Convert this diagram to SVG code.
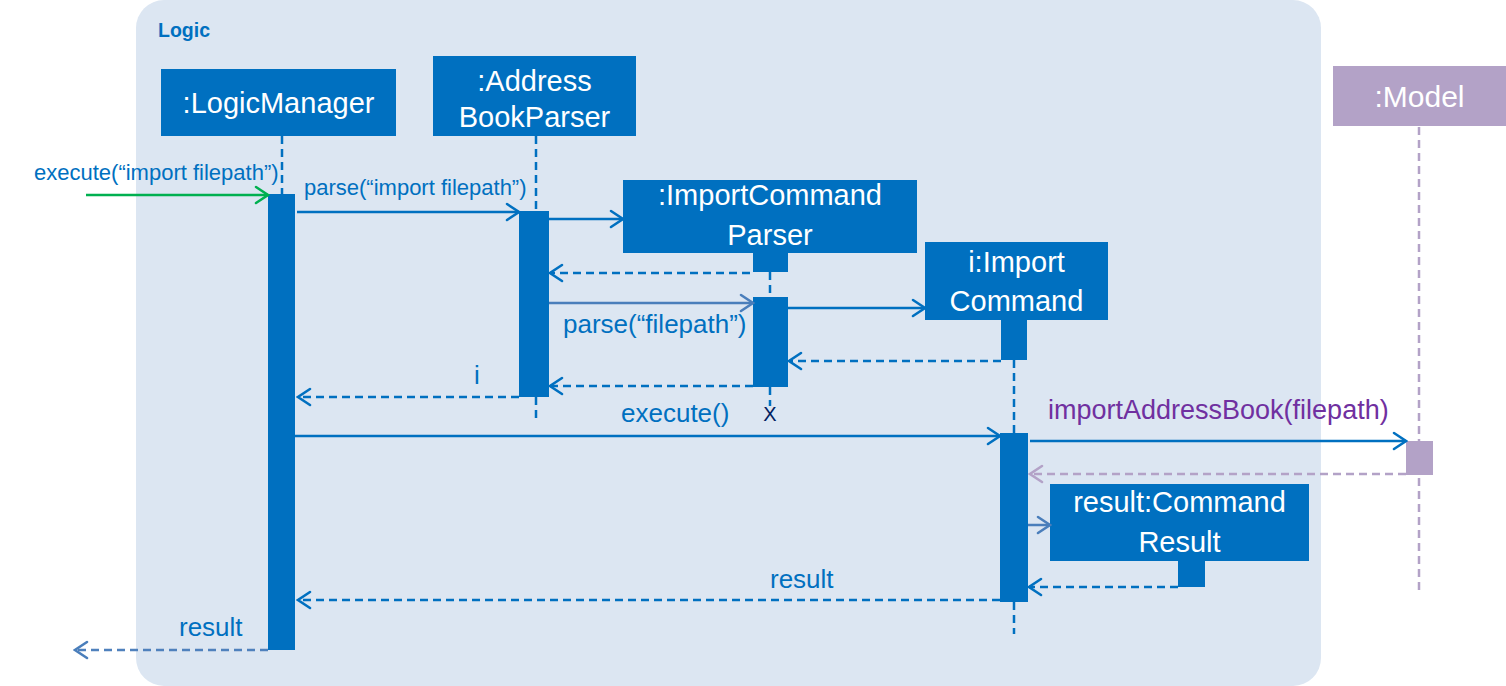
<svg xmlns="http://www.w3.org/2000/svg" width="1506" height="686" viewBox="0 0 1506 686">
<style>
text{font-family:"Liberation Sans",Arial,sans-serif}
.head{fill:#0070C0}
.bar{fill:#0070C0}
.ht{fill:#FFFFFF;font-size:29px;text-anchor:middle}
.lbl{fill:#0070C0;font-size:26px}
.sml{fill:#0070C0;font-size:22px}
.life{stroke:#0070C0;stroke-width:2.5;stroke-dasharray:8 5;fill:none}
.msg{stroke:#0070C0;stroke-width:2.5;fill:none}
.ret{stroke:#0070C0;stroke-width:2.5;stroke-dasharray:8 5;fill:none}
</style>
<defs>
<marker id="aB" markerUnits="userSpaceOnUse" markerWidth="16" markerHeight="20" viewBox="0 0 16 20" refX="14" refY="10" orient="auto"><path d="M2,2 L14,10 L2,18" fill="none" stroke="#0070C0" stroke-width="2.5" stroke-linecap="round"/></marker>
<marker id="aG" markerUnits="userSpaceOnUse" markerWidth="16" markerHeight="20" viewBox="0 0 16 20" refX="14" refY="10" orient="auto"><path d="M2,2 L14,10 L2,18" fill="none" stroke="#00B050" stroke-width="2.5" stroke-linecap="round"/></marker>
<marker id="aL" markerUnits="userSpaceOnUse" markerWidth="16" markerHeight="20" viewBox="0 0 16 20" refX="14" refY="10" orient="auto"><path d="M2,2 L14,10 L2,18" fill="none" stroke="#4A7EBB" stroke-width="2.5" stroke-linecap="round"/></marker>
<marker id="aP" markerUnits="userSpaceOnUse" markerWidth="16" markerHeight="20" viewBox="0 0 16 20" refX="14" refY="10" orient="auto"><path d="M2,2 L14,10 L2,18" fill="none" stroke="#B3A2C7" stroke-width="2.5" stroke-linecap="round"/></marker>
</defs>
<rect x="0" y="0" width="1506" height="686" fill="#FFFFFF"/>
<g id="logic-frame">
<rect x="136" y="0" width="1185" height="686" rx="28" fill="#DCE6F2"/>
<text x="158" y="37" font-size="19.5" font-weight="bold" fill="#0070C0">Logic</text>
</g>
<g id="logicmanager">
<line class="life" x1="282" y1="136" x2="282" y2="194"/>
<rect class="head" x="161" y="69" width="235" height="67"/>
<text class="ht" x="278.5" y="113">:LogicManager</text>
<rect class="bar" x="268" y="194" width="27" height="456"/>
</g>
<g id="addressbookparser">
<line class="life" x1="536" y1="136" x2="536" y2="211"/>
<line class="life" x1="536" y1="397" x2="536" y2="418"/>
<rect class="head" x="433" y="56" width="203" height="80"/>
<text class="ht" x="534.5" y="91">:Address</text>
<text class="ht" x="534.5" y="127">BookParser</text>
<rect class="bar" x="519" y="211" width="30" height="186"/>
</g>
<g id="importcommandparser">
<line class="life" x1="770" y1="272" x2="770" y2="297"/>
<line class="life" x1="770" y1="387" x2="770" y2="406"/>
<rect class="head" x="623" y="180" width="294" height="73"/>
<text class="ht" x="770" y="205">:ImportCommand</text>
<text class="ht" x="770" y="245">Parser</text>
<rect class="bar" x="753" y="253" width="35" height="19"/>
<rect class="bar" x="753" y="297" width="35" height="90"/>
<text x="770" y="421" font-size="20" fill="#002060" text-anchor="middle">X</text>
</g>
<g id="importcommand">
<line class="life" x1="1014" y1="360" x2="1014" y2="433"/>
<line class="life" x1="1014" y1="602" x2="1014" y2="634"/>
<rect class="head" x="925" y="242" width="183" height="78"/>
<text class="ht" x="1016.5" y="272">i:Import</text>
<text class="ht" x="1016.5" y="311">Command</text>
<rect class="bar" x="1001" y="320" width="26" height="40"/>
<rect class="bar" x="1000" y="433" width="28" height="169"/>
</g>
<g id="commandresult">
<rect class="head" x="1050" y="484" width="259" height="77"/>
<text class="ht" x="1179.5" y="512">result:Command</text>
<text class="ht" x="1179.5" y="552">Result</text>
<rect class="bar" x="1178" y="560" width="27" height="27"/>
</g>
<g id="model">
<line x1="1419" y1="127" x2="1419" y2="593" stroke="#B3A2C7" stroke-width="2.5" stroke-dasharray="8 5"/>
<rect x="1333" y="66" width="173" height="60" fill="#B3A2C7"/>
<text class="ht" x="1419.5" y="107" style="font-size:30px">:Model</text>
<rect x="1406" y="441" width="27" height="34" fill="#B3A2C7"/>
</g>
<g id="connectors">
<path d="M86,195 H268" stroke="#00B050" stroke-width="2.5" fill="none" marker-end="url(#aG)"/>
<text class="sml" x="34" y="180">execute(“import filepath”)</text>
<path class="msg" d="M297,212 H519" marker-end="url(#aB)"/>
<text class="sml" x="304" y="195">parse(“import filepath”)</text>
<path class="msg" d="M549,219 H623" marker-end="url(#aB)"/>
<path class="ret" d="M750,273 H550" marker-end="url(#aB)"/>
<path d="M549,303 H753" stroke="#4A7EBB" stroke-width="2.5" fill="none" marker-end="url(#aL)"/>
<text class="lbl" x="563" y="333">parse(“filepath”)</text>
<path class="msg" d="M788,308 H925" marker-end="url(#aB)"/>
<path class="ret" d="M1001,361 H789" marker-end="url(#aB)"/>
<path class="ret" d="M753,386 H550" marker-end="url(#aB)"/>
<path class="ret" d="M519,397 H298" marker-end="url(#aB)"/>
<text class="lbl" x="474" y="384">i</text>
<path class="msg" d="M295,436 H1000" marker-end="url(#aB)"/>
<text class="lbl" x="621" y="422">execute()</text>
<path class="msg" d="M1030,441 H1406" marker-end="url(#aB)"/>
<text x="1048" y="419" font-size="27" fill="#7030A0">importAddressBook(filepath)</text>
<path d="M1406,474 H1030" stroke="#B3A2C7" stroke-width="2.5" stroke-dasharray="8 5" fill="none" marker-end="url(#aP)"/>
<path d="M1028,525 H1050" stroke="#4A7EBB" stroke-width="2.5" fill="none" marker-end="url(#aL)"/>
<path class="ret" d="M1178,587 H1029" marker-end="url(#aB)"/>
<path class="ret" d="M1000,600 H298" marker-end="url(#aB)"/>
<text class="lbl" x="770" y="588">result</text>
<path d="M268,650 H75" stroke="#4F81BD" stroke-width="2.5" stroke-dasharray="8 5" fill="none" marker-end="url(#aL)"/>
<text class="lbl" x="179" y="636">result</text>
</g>
</svg>
